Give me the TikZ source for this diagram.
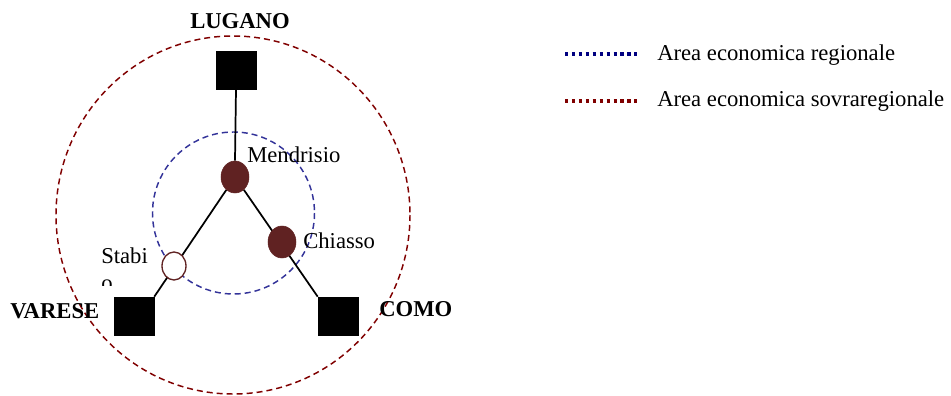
\documentclass[tikz,border=0pt]{standalone}
\usepackage{fontspec}
\setmainfont{Liberation Serif}
\usetikzlibrary{shapes.geometric,backgrounds}
\definecolor{R}{RGB}{128, 0, 0}
\definecolor{B}{RGB}{51, 51, 153}
\definecolor{BL}{RGB}{0, 0, 128}
\definecolor{M}{RGB}{96, 34, 34}

\begin{document}
\begin{tikzpicture}[x=0.75pt,y=-0.75pt,
  citta/.style={draw=black, fill=black, minimum width=30pt, minimum height=28.5pt, inner sep=0pt},
  nodo/.style={ellipse, draw=M, fill=M, minimum width=21pt, minimum height=24pt, inner sep=0pt},
  etichetta/.style={font=\fontsize{17}{20}\selectfont, inner sep=0pt},
  area/.style={dash pattern=on 4.5pt off 3pt, line width=1.1pt}]
  \useasboundingbox (0,0) rectangle (951,396);
	
  %# CITTA
  \node[citta] (lugano) at (236,70) {};
  \node[citta] (varese) at (134,316) {};
  \node[citta] (como) at (338,316) {};
	
  %# NODI
  \node[nodo] (mendrisio) at (235,177) {};
  \node[nodo] (chiasso) at (282,242) {};
  \node[nodo, fill=white, line width=1pt, minimum width=18pt, minimum height=21pt] (stabio) at (174,266) {};
	
  %# COLLEGAMENTI E AREE
  \begin{scope}[on background layer]
    \draw[R, area] (233,215) ellipse (177 and 179);
    \draw[B, area] (233.5,213) circle (81);
    \draw[black, line width=1.3pt] (lugano.south) -- (mendrisio.north);
    \draw[black, line width=1.3pt] (mendrisio) -- (varese.north east);
    \draw[black, line width=1.3pt] (mendrisio) -- (como.north west);
  \end{scope}
	
  %# NOMI
  \node[etichetta, font=\fontsize{17}{20}\selectfont\bfseries, anchor=base] (tlugano) at (240,28) {LUGANO};
  \node[etichetta, font=\fontsize{17}{20}\selectfont\bfseries, anchor=base west] (tvarese) at (10,318) {VARESE};
  \node[etichetta, font=\fontsize{17}{20}\selectfont\bfseries, anchor=base west] (tcomo) at (379,316) {COMO};
  \node[etichetta, anchor=base west] (tmendrisio) at (247,162) {Mendrisio};
  \node[etichetta, anchor=base west] (tchiasso) at (303,248) {Chiasso};
  \begin{scope}
    \clip (95,230) rectangle (160,285);
    \node[etichetta, anchor=base west, align=left] (tstabio) at (101,290) {Stabi\\o};
  \end{scope}
	
  %# LEGENDA
  \coordinate (la1) at (565,54);
  \coordinate (lb1) at (637,54);
  \coordinate (la2) at (565,101);
  \coordinate (lb2) at (637,101);
  \draw[BL, line width=2.6pt, dash pattern=on 2.6pt off 2.6pt] (la1) -- (lb1);
  \draw[R, line width=2.6pt, dash pattern=on 2.6pt off 2.6pt] (la2) -- (lb2);
  \node[etichetta, anchor=west] (tregionale) at (657,55) {Area economica regionale};
  \node[etichetta, anchor=west] (tsovra) at (657,101) {Area economica sovraregionale};
\end{tikzpicture}
\end{document}
